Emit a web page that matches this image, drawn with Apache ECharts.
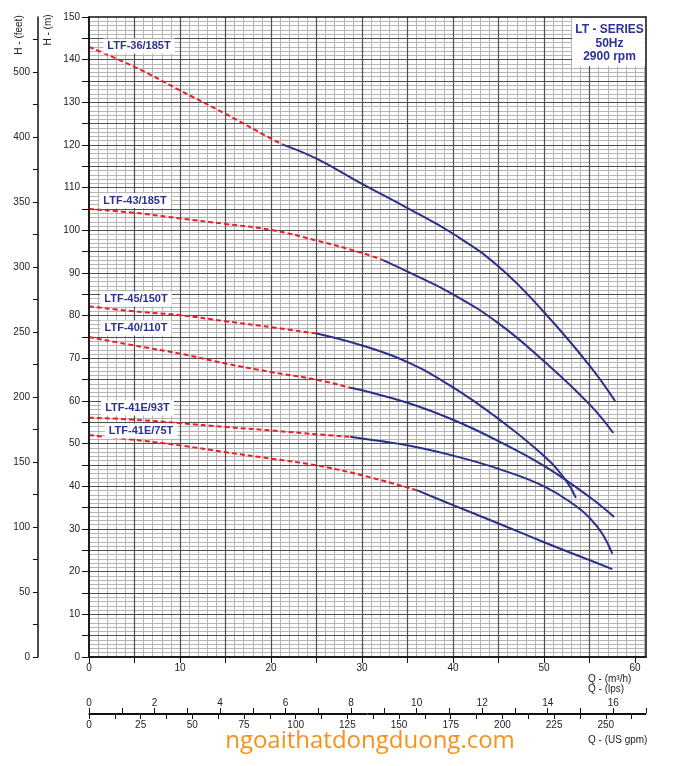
<!DOCTYPE html>
<html>
<head>
<meta charset="utf-8">
<script src="https://cdn.jsdelivr.net/npm/echarts@6/dist/echarts.min.js"></script>
<style>html,body{margin:0;padding:0;background:#fff}#chart{width:678px;height:766px}</style>
</head>
<body>
<div id="chart"></div>
<script>
// ---------------- DATA ----------------
const modelNames = ['LTF-36/185T', 'LTF-43/185T', 'LTF-45/150T', 'LTF-40/110T', 'LTF-41E/93T', 'LTF-41E/75T'];

// [Q (m3/h), H (m)] — dashed (not recommended) and solid (operating) parts
const ltf36_185T_dashed = [[0,143],[5,138.3],[10,132.8],[15,127.3],[20,121.5],[21.3,120.1]];
const ltf36_185T_solid  = [[21.3,120.1],[25,116.8],[30,110.9],[35,105.2],[40,99.2],[45,91.5],[50,80.8],[55,68.3],[57.8,60]];
const ltf43_185T_dashed = [[0,105],[5,104.1],[10,102.8],[15,101.5],[20,100.1],[25,97.6],[30,94.7],[32.3,93]];
const ltf43_185T_solid  = [[32.3,93],[35,90.3],[40,85],[45,78.2],[50,69.3],[55,59.2],[57.6,52.5]];
const ltf45_150T_dashed = [[0,82.2],[5,81],[10,80.1],[15,78.7],[20,77.3],[25,75.8]];
const ltf45_150T_solid  = [[25,75.8],[30,73],[35,69.1],[40,63.2],[45,55.8],[50,47.1],[52.4,41.4],[53.5,37.3]];
const ltf40_110T_dashed = [[0,75],[5,73],[10,71.1],[15,68.8],[20,66.8],[25,65],[28.7,63.1]];
const ltf40_110T_solid  = [[28.7,63.1],[30,62.5],[35,59.6],[40,55.6],[45,50.6],[50,44.8],[55,37.5],[57.7,32.8]];
const ltf41E_93T_dashed = [[0,56.1],[5,55.6],[10,54.8],[15,53.9],[20,53.1],[25,52.2],[28.7,51.6]];
const ltf41E_93T_solid  = [[28.7,51.6],[32,50.6],[35,49.6],[40,47.2],[45,44.1],[50,40],[53.5,35.4],[55,32.6],[56.4,28.9],[57.5,24.2]];
const ltf41E_75T_dashed = [[0,52],[5,50.9],[10,49.6],[15,48],[20,46.5],[25,44.9],[30,42.6],[36,39.1]];
const ltf41E_75T_solid  = [[36,39.1],[40,35.6],[45,31.3],[50,26.9],[55,22.7],[57.5,20.6]];

// Axes
const flowMax = 61.2;            // m3/h
const headMax = 150;             // m
const feetMax = 492.13;          // ft
const lpsMax = 17;               // lps
const gpmMax = 269.46;           // US gpm
const flowTicks  = [0,5,10,15,20,25,30,35,40,45,50,55,60];
const flowLabels = [0,10,20,30,40,50,60];
const headTicks  = [0,5,10,15,20,25,30,35,40,45,50,55,60,65,70,75,80,85,90,95,100,105,110,115,120,125,130,135,140,145,150];
const headLabels = [0,10,20,30,40,50,60,70,80,90,100,110,120,130,140,150];
const feetTicks  = [0,25,50,75,100,125,150,175,200,225,250,275,300,325,350,375,400,425,450,475];
const feetLabelValues = [0,50,100,150,200,250,300,350,400,450];
const feetLabelTexts  = ['0','50','100','150','200','250','300','350','400','500'];
const lpsTicks  = [0,1,2,3,4,5,6,7,8,9,10,11,12,13,14,15,16,17];
const lpsLabels = [0,2,4,6,8,10,12,14,16];
const gpmTicks  = [0,12.5,25,37.5,50,62.5,75,87.5,100,112.5,125,137.5,150,162.5,175,187.5,200,212.5,225,237.5,250,262.5];
const gpmLabels = [0,25,50,75,100,125,150,175,200,225,250];

// ---------------- STYLE ----------------
const FONT = 'Liberation Sans, Arial, Helvetica, sans-serif';
const NAVY = '#2b3189';
const RED = '#ee1c25';
const TXT = '#2e3192';
const DARK = '#505050';
const LIGHT = '#b5b5b5';

const chart = echarts.init(document.getElementById('chart'), null, {renderer: 'canvas'});

const labelStyle = {color: '#222', fontSize: 10, fontFamily: FONT};

function lineSeries(name, data, dashed) {
  return {
    type: 'line', name: name, data: data, xAxisIndex: 0, yAxisIndex: 0,
    showSymbol: false, symbol: 'none', smooth: 0.45,
    z: 4, silent: true, animation: false,
    lineStyle: dashed ? {color: RED, width: 2, type: [5, 3]} : {color: NAVY, width: 2}
  };
}

const pairs = [
  [ltf36_185T_dashed, ltf36_185T_solid],
  [ltf43_185T_dashed, ltf43_185T_solid],
  [ltf45_150T_dashed, ltf45_150T_solid],
  [ltf40_110T_dashed, ltf40_110T_solid],
  [ltf41E_93T_dashed, ltf41E_93T_solid],
  [ltf41E_75T_dashed, ltf41E_75T_solid]
];
const series = [];
pairs.forEach((p, i) => {
  series.push(lineSeries(modelNames[i], p[0], true));
  series.push(lineSeries(modelNames[i], p[1], false));
});

function txt(text, x, y, opt) {
  opt = opt || {};
  return {
    type: 'text', x: x, y: y, z: 100, rotation: opt.rotation || 0, silent: true,
    style: Object.assign({
      text: text, x: 0, y: 0, fill: opt.fill || '#222',
      font: opt.font || ('10px ' + FONT),
      textAlign: opt.align || 'left', align: opt.align || 'left',
      textVerticalAlign: 'middle', verticalAlign: 'middle'
    }, opt.extra || {})
  };
}

const labelFont = 'bold 11px ' + FONT;
const boxExtra = {backgroundColor: '#fff', padding: [2, 4]};

const option = {
  animation: false,
  backgroundColor: '#fff',
  grid: [
    {left: 89, top: 17, width: 557, height: 640, show: true, borderColor: '#111', borderWidth: 1.5,
     backgroundColor: 'transparent', z: 5, outerBoundsMode: 'none', containLabel: false},
    {left: 38, top: 17, width: 1, height: 640, show: false, outerBoundsMode: 'none', containLabel: false},
    {left: 89, top: 713, width: 557, height: 1, show: false, outerBoundsMode: 'none', containLabel: false}
  ],
  xAxis: [
    { // main flow axis
      type: 'value', gridIndex: 0, position: 'bottom', min: 0, max: flowMax, interval: 5, z: 2,
      axisLine: {show: true, onZero: false, lineStyle: {color: '#111', width: 1.5}},
      axisTick: {show: true, inside: false, length: 6, customValues: flowTicks, lineStyle: {color: '#111', width: 1}},
      axisLabel: Object.assign({show: true, margin: 6, customValues: flowLabels,
        formatter: v => (v % 10 === 0 && v <= 60) ? String(v) : ''}, labelStyle),
      splitLine: {show: true, showMinLine: false, showMaxLine: false, lineStyle: {color: DARK, width: 1.2}}
    },
    { // light grid (every 1 m3/h)
      type: 'value', gridIndex: 0, position: 'top', min: 0, max: flowMax, interval: 1, z: 1,
      axisLine: {show: false}, axisTick: {show: false}, axisLabel: {show: false},
      splitLine: {show: true, showMinLine: false, showMaxLine: false, lineStyle: {color: LIGHT, width: 1}}
    },
    { type: 'value', gridIndex: 1, show: false, min: 0, max: 1 },
    { // lps
      type: 'value', gridIndex: 2, position: 'top', min: 0, max: lpsMax, interval: 1,
      axisLine: {show: true, onZero: false, lineStyle: {color: '#111', width: 1}},
      axisTick: {show: true, inside: false, length: 5, customValues: lpsTicks, lineStyle: {color: '#111', width: 1}},
      axisLabel: Object.assign({show: true, margin: 5, customValues: lpsLabels,
        formatter: v => (v % 2 === 0 && v <= 16) ? String(v) : ''}, labelStyle),
      splitLine: {show: false}
    },
    { // US gpm
      type: 'value', gridIndex: 2, position: 'bottom', min: 0, max: gpmMax, interval: 12.5,
      axisLine: {show: true, onZero: false, lineStyle: {color: '#111', width: 1}},
      axisTick: {show: true, inside: false, length: 5, customValues: gpmTicks, lineStyle: {color: '#111', width: 1}},
      axisLabel: Object.assign({show: true, margin: 6, customValues: gpmLabels,
        formatter: v => (v % 25 === 0 && v <= 250) ? String(v) : ''}, labelStyle),
      splitLine: {show: false}
    }
  ],
  yAxis: [
    { // head m
      type: 'value', gridIndex: 0, position: 'left', min: 0, max: headMax, interval: 5, z: 2,
      axisLine: {show: true, onZero: false, lineStyle: {color: '#111', width: 1.5}},
      axisTick: {show: true, inside: false, length: 7, customValues: headTicks, lineStyle: {color: '#111', width: 1}},
      axisLabel: Object.assign({show: true, margin: 9, customValues: headLabels,
        formatter: v => (v % 10 === 0) ? String(v) : ''}, labelStyle),
      splitLine: {show: true, showMinLine: false, showMaxLine: false, lineStyle: {color: DARK, width: 1.2}}
    },
    { // light grid (every 1 m)
      type: 'value', gridIndex: 0, position: 'right', min: 0, max: headMax, interval: 1, z: 1,
      axisLine: {show: false}, axisTick: {show: false}, axisLabel: {show: false},
      splitLine: {show: true, showMinLine: false, showMaxLine: false, lineStyle: {color: LIGHT, width: 1}}
    },
    { // feet
      type: 'value', gridIndex: 1, position: 'left', min: 0, max: feetMax, interval: 25,
      axisLine: {show: true, onZero: false, lineStyle: {color: '#111', width: 1.5}},
      axisTick: {show: true, inside: false, length: 5, customValues: feetTicks, lineStyle: {color: '#111', width: 1}},
      axisLabel: Object.assign({show: true, margin: 8, customValues: feetLabelValues,
        formatter: v => { const i = feetLabelValues.indexOf(v); return i >= 0 ? feetLabelTexts[i] : ''; }}, labelStyle),
      splitLine: {show: false}
    },
    { type: 'value', gridIndex: 2, show: false, min: 0, max: 1 }
  ],
  series: series,
  graphic: {
    elements: [
      // series info box
      {type: 'rect', z: 99, silent: true, shape: {x: 572, y: 18, width: 73, height: 48}, style: {fill: '#fff'}},
      txt('LT - SERIES', 609.5, 30, {font: 'bold 12px ' + FONT, fill: TXT, align: 'center'}),
      txt('50Hz', 609.5, 43.5, {font: 'bold 12px ' + FONT, fill: TXT, align: 'center'}),
      txt('2900 rpm', 609.5, 57, {font: 'bold 12px ' + FONT, fill: TXT, align: 'center'}),
      // curve labels
      txt(modelNames[0], 139, 46, {font: labelFont, fill: TXT, align: 'center', extra: boxExtra}),
      txt(modelNames[1], 135, 200.5, {font: labelFont, fill: TXT, align: 'center', extra: boxExtra}),
      txt(modelNames[2], 136, 299, {font: labelFont, fill: TXT, align: 'center', extra: boxExtra}),
      txt(modelNames[3], 136, 328, {font: labelFont, fill: TXT, align: 'center', extra: boxExtra}),
      txt(modelNames[4], 137.5, 408, {font: labelFont, fill: TXT, align: 'center', extra: boxExtra}),
      txt(modelNames[5], 141, 431, {font: labelFont, fill: TXT, align: 'center', extra: boxExtra}),
      // axis names
      txt('H - (feet)', 19, 35, {rotation: Math.PI / 2, align: 'center'}),
      txt('H - (m)', 48, 30, {rotation: Math.PI / 2, align: 'center'}),
      txt('Q - (m\u00b3/h)', 588, 679),
      txt('Q - (lps)', 588, 689.5),
      txt('Q - (US gpm)', 588, 740),
      // watermark
      txt('ngoaithatdongduong.com', 370, 741, {font: '24px "Open Sans", sans-serif', fill: '#f8901e', align: 'center'})
    ]
  }
};

chart.setOption(option);
</script>
</body>
</html>
